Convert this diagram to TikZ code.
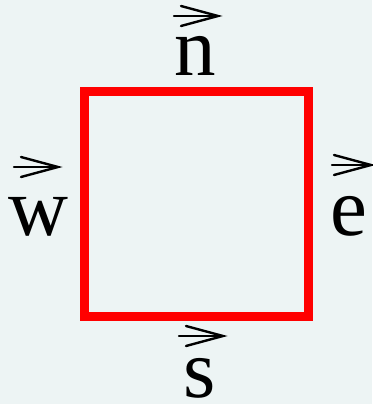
\documentclass[tikz,border=0pt]{standalone}
\usepackage{fontspec}
\setmainfont{Liberation Serif}
\definecolor{bgc}{RGB}{237,244,244}
\definecolor{boxred}{RGB}{255,0,0}
\tikzset{
  lbl/.style={anchor=base, inner sep=0pt, text depth=0pt, font=\fontsize{83}{83}\selectfont},
  vecarr/.style={line width=2.4pt, line cap=round, line join=miter},
}
\newcommand{\vecarrow}[2]{%
  \draw[vecarr] (#1) -- (#2);
  \draw[vecarr] ([shift={(-37,-10)}]#2) -- (#2) -- ([shift={(-37,10)}]#2);
}
\begin{document}
\begin{tikzpicture}[x=1pt,y=-1pt]
\fill[bgc] (0,0) rectangle (372,404);
\useasboundingbox (0,0) rectangle (372,404);
\draw[boxred, line width=9pt] (84.5,91.5) rectangle (308.5,316.5);
\node[lbl] (n) at (195,75) {n};
\node[lbl] (w) at (38,235) {w};
\node[lbl] (e) at (349,235) {e};
\node[lbl] (s) at (200,397) {s};
\coordinate (na) at (174,16); \coordinate (nb) at (218,16);
\coordinate (wa) at (14,167); \coordinate (wb) at (58,167);
\coordinate (ea) at (332,165); \coordinate (eb) at (371,165);
\coordinate (sa) at (179,336); \coordinate (sb) at (223,336);
\vecarrow{na}{nb}
\vecarrow{wa}{wb}
\vecarrow{ea}{eb}
\vecarrow{sa}{sb}
\end{tikzpicture}
\end{document}
